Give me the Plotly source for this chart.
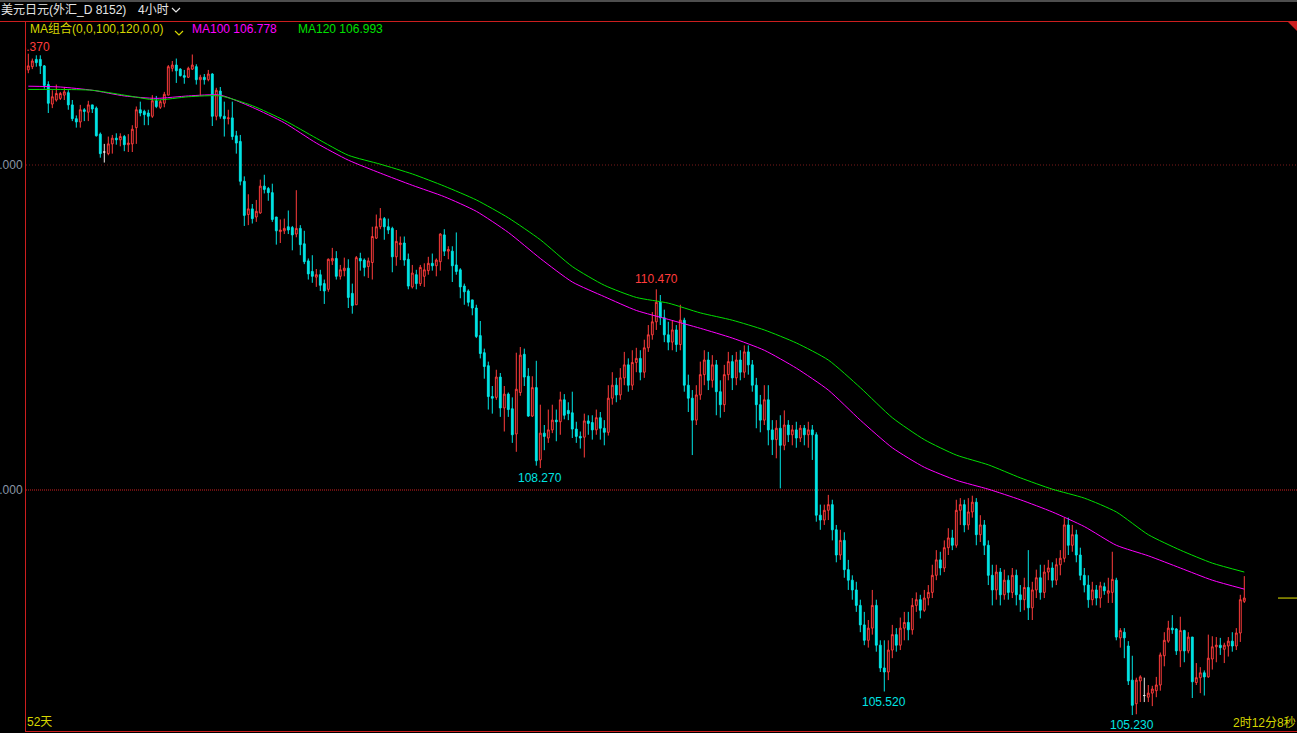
import plotly.graph_objects as go

# ---------------- data (4-hour candles, USD/JPY) ----------------
OPEN = [
    113.17, 113.21, 113.30, 113.30, 113.22, 112.99, 112.75, 112.80, 112.82, 112.86,
    112.89, 112.74, 112.57, 112.53, 112.68, 112.65, 112.74, 112.70, 112.38, 112.16,
    112.14, 112.26, 112.33, 112.31, 112.35, 112.25, 112.26, 112.46, 112.68, 112.66,
    112.64, 112.60, 112.79, 112.71, 112.76, 112.86, 113.19, 113.23, 113.18, 113.10,
    113.08, 113.18, 113.21, 113.05, 113.08, 113.05, 113.12, 112.60, 112.91, 112.60,
    112.57, 112.58, 112.36, 112.29, 111.80, 111.39, 111.46, 111.36, 111.41, 111.74,
    111.71, 111.66, 111.36, 111.18, 111.19, 111.24, 111.23, 111.15, 111.22, 111.03,
    110.82, 110.69, 110.62, 110.65, 110.54, 110.47, 110.82, 110.85, 110.63, 110.70,
    110.73, 110.42, 110.28, 110.85, 110.83, 110.75, 110.80, 111.10, 111.24, 111.34,
    111.24, 111.22, 110.87, 111.02, 111.04, 110.84, 110.50, 110.65, 110.54, 110.63,
    110.70, 110.79, 110.76, 110.81, 111.14, 110.94, 110.94, 110.77, 110.71, 110.51,
    110.45, 110.34, 110.24, 109.90, 109.69, 109.53, 109.15, 109.14, 109.39, 109.01,
    109.18, 109.00, 108.69, 109.20, 109.67, 109.40, 108.91, 109.26, 108.37, 108.70,
    108.64, 108.74, 108.86, 108.84, 109.11, 108.98, 108.95, 108.75, 108.66, 108.65,
    108.85, 108.83, 108.74, 108.89, 108.76, 108.71, 109.13, 109.29, 109.17, 109.38,
    109.54, 109.29, 109.57, 109.62, 109.45, 109.75, 109.91, 110.07, 110.31, 110.12,
    109.91, 109.82, 109.97, 109.79, 110.09, 109.29, 109.13, 108.86, 109.17, 109.42,
    109.60, 109.35, 109.54, 109.21, 109.05, 109.42, 109.58, 109.38, 109.60, 109.45,
    109.70, 109.54, 109.29, 109.05, 108.86, 109.11, 108.74, 108.62, 108.76, 108.55,
    108.80, 108.68, 108.74, 108.64, 108.76, 108.68, 108.74, 108.68, 107.69, 107.63,
    107.75, 107.82, 107.51, 107.20, 107.38, 107.02, 106.89, 106.77, 106.58, 106.34,
    106.15, 106.30, 106.58, 106.09, 105.81, 105.76, 106.03, 106.22, 106.09, 106.30,
    106.37, 106.28, 106.58, 106.65, 106.52, 106.67, 106.74, 106.95, 107.14, 107.04,
    107.29, 107.41, 107.32, 107.75, 107.82, 107.57, 107.73, 107.85, 107.45, 107.57,
    107.32, 106.95, 106.77, 106.99, 106.71, 106.89, 106.74, 106.95, 106.71, 106.65,
    106.80, 106.55, 106.77, 106.92, 106.74, 106.99, 107.04, 106.89, 107.08, 107.16,
    107.57, 107.32, 107.45, 107.20, 106.95, 106.83, 106.65, 106.77, 106.67, 106.81,
    106.73, 106.74, 106.89, 106.18, 106.25, 106.08, 105.66, 105.37, 105.65, 105.47,
    105.45, 105.50, 105.53, 105.60, 105.96, 106.14, 106.30, 106.29, 106.02, 106.27,
    106.02, 106.19, 105.63, 105.69, 105.75, 105.70, 105.92, 106.07, 106.09, 106.04,
    106.08, 106.14, 106.08, 106.24, 106.63,
]
HIGH = [
    113.37, 113.31, 113.35, 113.35, 113.23, 113.03, 112.92, 112.99, 112.90, 112.96,
    112.92, 112.80, 112.61, 112.74, 112.70, 112.79, 112.74, 112.72, 112.40, 112.26,
    112.35, 112.37, 112.39, 112.39, 112.37, 112.38, 112.49, 112.72, 112.78, 112.68,
    112.68, 112.86, 112.85, 112.80, 112.90, 113.23, 113.28, 113.31, 113.19, 113.17,
    113.21, 113.36, 113.24, 113.11, 113.12, 113.17, 113.13, 112.95, 112.96, 112.78,
    112.68, 112.78, 112.42, 112.37, 111.86, 111.64, 111.52, 111.57, 111.82, 111.88,
    111.73, 111.77, 111.36, 111.33, 111.34, 111.44, 111.25, 111.69, 111.26, 111.19,
    110.85, 110.89, 110.72, 110.71, 110.59, 110.85, 110.98, 110.94, 110.77, 110.86,
    110.84, 110.54, 110.88, 110.92, 110.85, 110.86, 111.24, 111.39, 111.47, 111.36,
    111.34, 111.24, 111.20, 111.12, 111.12, 110.91, 110.77, 110.71, 110.77, 110.79,
    110.87, 110.91, 110.85, 111.16, 111.21, 111.00, 111.00, 111.17, 110.73, 110.54,
    110.47, 110.34, 110.28, 110.08, 109.74, 109.58, 109.28, 109.48, 109.44, 109.28,
    109.20, 109.14, 109.69, 109.76, 109.74, 109.50, 109.40, 109.59, 109.05, 108.80,
    108.99, 109.05, 108.99, 109.21, 109.18, 109.08, 109.21, 108.84, 108.72, 108.94,
    108.92, 108.92, 108.99, 108.96, 108.86, 109.29, 109.45, 109.38, 109.50, 109.70,
    109.62, 109.72, 109.75, 109.72, 109.85, 110.03, 110.19, 110.47, 110.40, 110.22,
    110.07, 110.09, 110.03, 110.28, 110.12, 109.42, 109.23, 109.29, 109.58, 109.72,
    109.70, 109.66, 109.60, 109.35, 109.54, 109.70, 109.66, 109.70, 109.72, 109.78,
    109.78, 109.60, 109.38, 109.17, 109.29, 109.29, 108.86, 108.86, 108.92, 108.98,
    108.86, 108.80, 108.84, 108.80, 108.80, 108.84, 108.80, 108.71, 107.82, 107.82,
    107.94, 107.88, 107.57, 107.51, 107.48, 107.14, 106.95, 106.87, 106.65, 106.50,
    106.40, 106.77, 106.65, 106.15, 106.15, 106.15, 106.34, 106.30, 106.43, 106.50,
    106.50, 106.67, 106.74, 106.71, 106.77, 106.83, 107.08, 107.26, 107.24, 107.38,
    107.53, 107.51, 107.88, 107.90, 107.88, 107.90, 107.93, 107.90, 107.69, 107.63,
    107.38, 107.08, 107.08, 107.04, 107.02, 106.95, 107.04, 107.02, 106.83, 106.92,
    107.26, 106.87, 107.02, 107.08, 107.08, 107.14, 107.11, 107.16, 107.26, 107.66,
    107.66, 107.57, 107.51, 107.29, 107.04, 106.95, 106.87, 106.83, 106.87, 106.86,
    106.92, 107.24, 106.92, 106.30, 106.30, 106.14, 105.96, 105.69, 105.72, 105.69,
    105.60, 105.59, 105.70, 106.00, 106.25, 106.39, 106.46, 106.30, 106.44, 106.28,
    106.25, 106.19, 105.87, 105.82, 105.78, 106.22, 106.20, 106.19, 106.18, 106.12,
    106.19, 106.25, 106.30, 106.71, 106.94,
]
LOW = [
    113.13, 113.18, 113.21, 113.12, 112.94, 112.64, 112.70, 112.78, 112.80, 112.80,
    112.68, 112.54, 112.46, 112.46, 112.54, 112.54, 112.64, 112.35, 112.09, 112.03,
    112.12, 112.14, 112.25, 112.23, 112.17, 112.16, 112.16, 112.26, 112.60, 112.49,
    112.49, 112.58, 112.70, 112.69, 112.71, 112.86, 113.15, 113.01, 113.09, 113.00,
    113.07, 113.17, 112.99, 112.85, 112.99, 113.03, 112.48, 112.55, 112.57, 112.35,
    112.50, 112.31, 112.14, 111.75, 111.25, 111.26, 111.28, 111.30, 111.40, 111.65,
    111.56, 111.30, 111.02, 111.04, 111.15, 111.15, 110.95, 111.11, 110.89, 110.78,
    110.59, 110.55, 110.50, 110.45, 110.29, 110.44, 110.77, 110.59, 110.59, 110.63,
    110.24, 110.17, 110.28, 110.70, 110.63, 110.61, 110.59, 111.09, 111.21, 111.08,
    111.15, 110.68, 110.76, 110.83, 110.76, 110.47, 110.48, 110.47, 110.51, 110.50,
    110.65, 110.70, 110.63, 110.70, 110.88, 110.84, 110.56, 110.65, 110.36, 110.28,
    110.26, 110.15, 109.87, 109.62, 109.37, 108.99, 108.94, 109.11, 108.90, 108.72,
    108.90, 108.58, 108.47, 109.16, 109.28, 108.90, 108.90, 108.30, 108.27, 108.49,
    108.58, 108.70, 108.60, 108.68, 108.87, 108.86, 108.64, 108.58, 108.51, 108.40,
    108.68, 108.62, 108.68, 108.62, 108.55, 108.67, 109.05, 109.08, 109.11, 109.29,
    109.21, 109.23, 109.45, 109.35, 109.38, 109.70, 109.85, 109.97, 110.03, 109.82,
    109.72, 109.72, 109.70, 109.72, 109.21, 108.96, 108.43, 108.80, 109.11, 109.29,
    109.23, 109.26, 108.92, 108.89, 108.96, 109.35, 109.23, 109.29, 109.35, 109.38,
    109.42, 109.21, 108.76, 108.71, 108.80, 108.55, 108.43, 108.39, 108.02, 108.49,
    108.59, 108.55, 108.52, 108.59, 108.55, 108.52, 108.37, 107.61, 107.51, 107.57,
    107.63, 107.38, 107.11, 107.14, 106.92, 106.77, 106.65, 106.50, 106.25, 106.09,
    106.06, 106.22, 106.01, 105.76, 105.52, 105.66, 105.93, 106.01, 106.03, 106.15,
    106.15, 106.22, 106.50, 106.42, 106.50, 106.58, 106.67, 106.89, 106.95, 106.99,
    107.20, 107.26, 107.29, 107.57, 107.48, 107.51, 107.66, 107.32, 107.36, 107.20,
    106.83, 106.58, 106.65, 106.58, 106.65, 106.65, 106.67, 106.58, 106.50, 106.52,
    106.40, 106.40, 106.67, 106.65, 106.67, 106.89, 106.80, 106.83, 106.95, 107.11,
    107.20, 107.24, 107.11, 106.89, 106.74, 106.55, 106.58, 106.58, 106.55, 106.71,
    106.61, 106.61, 106.15, 106.06, 105.93, 105.60, 105.23, 105.24, 105.39, 105.39,
    105.39, 105.34, 105.45, 105.53, 105.83, 106.12, 106.23, 105.97, 105.82, 105.88,
    105.99, 105.44, 105.60, 105.50, 105.47, 105.69, 105.79, 105.88, 105.97, 105.87,
    105.95, 106.01, 106.03, 106.13, 106.61,
]
CLOSE = [
    113.22, 113.28, 113.26, 113.22, 112.98, 112.76, 112.84, 112.88, 112.88, 112.90,
    112.74, 112.57, 112.53, 112.68, 112.66, 112.74, 112.69, 112.36, 112.14, 112.16,
    112.26, 112.33, 112.31, 112.35, 112.25, 112.27, 112.44, 112.68, 112.64, 112.62,
    112.60, 112.79, 112.72, 112.78, 112.87, 113.21, 113.23, 113.16, 113.10, 113.08,
    113.19, 113.23, 113.05, 113.08, 113.05, 113.12, 112.60, 112.92, 112.60, 112.57,
    112.58, 112.35, 112.27, 111.80, 111.38, 111.46, 111.34, 111.43, 111.74, 111.70,
    111.66, 111.33, 111.19, 111.20, 111.22, 111.20, 111.14, 111.22, 111.02, 110.81,
    110.66, 110.63, 110.65, 110.52, 110.45, 110.84, 110.85, 110.63, 110.71, 110.73,
    110.37, 110.27, 110.86, 110.82, 110.74, 110.82, 111.12, 111.24, 111.34, 111.24,
    111.20, 110.87, 111.06, 111.04, 110.83, 110.51, 110.67, 110.54, 110.74, 110.71,
    110.79, 110.76, 110.83, 111.15, 110.94, 110.96, 110.76, 110.69, 110.50, 110.44,
    110.31, 110.24, 109.89, 109.68, 109.52, 109.15, 109.13, 109.39, 109.01, 109.18,
    108.99, 108.68, 109.24, 109.66, 109.39, 108.91, 109.26, 108.36, 108.70, 108.66,
    108.74, 108.86, 108.84, 109.11, 108.92, 108.94, 108.75, 108.66, 108.64, 108.85,
    108.82, 108.74, 108.89, 108.76, 108.71, 109.13, 109.29, 109.17, 109.38, 109.54,
    109.29, 109.57, 109.62, 109.45, 109.75, 109.91, 110.07, 110.31, 110.12, 109.91,
    109.82, 109.97, 109.79, 110.09, 109.29, 109.13, 108.86, 109.17, 109.42, 109.60,
    109.35, 109.54, 109.21, 109.05, 109.42, 109.58, 109.38, 109.60, 109.45, 109.70,
    109.54, 109.29, 109.05, 108.86, 109.11, 108.74, 108.62, 108.76, 108.55, 108.80,
    108.68, 108.74, 108.64, 108.76, 108.68, 108.74, 108.68, 107.69, 107.63, 107.75,
    107.82, 107.51, 107.20, 107.38, 107.02, 106.89, 106.77, 106.58, 106.34, 106.15,
    106.30, 106.58, 106.09, 105.81, 105.76, 106.03, 106.22, 106.09, 106.30, 106.37,
    106.28, 106.58, 106.65, 106.52, 106.67, 106.74, 106.95, 107.14, 107.04, 107.29,
    107.41, 107.32, 107.75, 107.82, 107.57, 107.73, 107.85, 107.45, 107.57, 107.32,
    106.95, 106.77, 106.99, 106.71, 106.89, 106.74, 106.95, 106.71, 106.65, 106.80,
    106.55, 106.77, 106.92, 106.74, 106.99, 107.04, 106.89, 107.08, 107.16, 107.57,
    107.32, 107.45, 107.20, 106.95, 106.83, 106.65, 106.77, 106.67, 106.82, 106.76,
    106.76, 106.90, 106.19, 106.27, 106.18, 105.65, 105.35, 105.66, 105.70, 105.47,
    105.50, 105.55, 105.60, 105.97, 106.15, 106.30, 106.28, 106.02, 106.27, 106.02,
    106.19, 105.64, 105.69, 105.75, 105.70, 105.93, 106.07, 106.09, 106.06, 106.09,
    106.14, 106.08, 106.24, 106.65, 106.67,
]
DOJI_IDX = [19, 279]

# moving averages, read every 8th candle
MA_IDX = list(range(0, 305, 8))
MA100 = [
    112.97, 112.96, 112.92, 112.85, 112.82, 112.85, 112.86, 112.71, 112.52, 112.27,
    112.06, 111.90, 111.75, 111.61, 111.43, 111.17, 110.85, 110.56, 110.38, 110.21,
    110.10, 109.99, 109.87, 109.72, 109.50, 109.23, 108.86, 108.52, 108.28, 108.12,
    108.01, 107.88, 107.73, 107.55, 107.32, 107.19, 107.04, 106.89, 106.78,
]
MA120 = [
    112.93, 112.93, 112.92, 112.86, 112.80, 112.84, 112.85, 112.73, 112.55, 112.33,
    112.12, 112.01, 111.89, 111.74, 111.57, 111.35, 111.08, 110.75, 110.52, 110.37,
    110.30, 110.18, 110.09, 109.97, 109.81, 109.60, 109.26, 108.89, 108.62, 108.43,
    108.31, 108.15, 108.01, 107.90, 107.73, 107.45, 107.26, 107.10, 106.99,
]
MA_LAST = {"MA100": 106.778, "MA120": 106.993}

Y_TICKS = [108.0, 112.0]
Y_TICK_TEXT = ["108.000", "112.000"]

# labelled extremes: (candle index, price, kind)
EXTREMES = [(157, 110.47, "high"), (128, 108.27, "low"),
            (214, 105.52, "low"), (276, 105.23, "low")]
CLIPPED_HIGH = (0, 113.37)

TITLE = "美元日元(外汇_D 8152)"
PERIOD = "4小时"
MA_SET = "MA组合(0,0,100,120,0,0)"
SPAN = "52天"
COUNTDOWN = "2时12分8秒"

# ---------------- styling / layout helpers ----------------
W, H = 1297, 733
LM, TM, BM = 26, 22, 2
PW, PH = W - LM, H - TM - BM


def px(x):
    return (x - LM) / PW


def py(y):
    return (H - BM - y) / PH


UP = "#ff3c3c"
DOWN = "#00e4e4"
DOJI = "#e8e8e8"
RED = "#cc1e1e"
YEL = "#d6d600"
MAG = "#ff00ff"
GRN = "#00e000"
FONT = "Liberation Sans, Noto Sans CJK SC, sans-serif"

n = len(CLOSE)
main = [i for i in range(n) if i not in DOJI_IDX]

fig = go.Figure()
fig.add_trace(go.Candlestick(
    x=main,
    open=[OPEN[i] for i in main], high=[HIGH[i] for i in main],
    low=[LOW[i] for i in main], close=[CLOSE[i] for i in main],
    increasing=dict(line=dict(color=UP, width=1), fillcolor="#000000"),
    decreasing=dict(line=dict(color=DOWN, width=1), fillcolor=DOWN),
    whiskerwidth=0, hoverinfo="none", showlegend=False))
fig.add_trace(go.Candlestick(
    x=DOJI_IDX,
    open=[OPEN[i] for i in DOJI_IDX], high=[HIGH[i] for i in DOJI_IDX],
    low=[LOW[i] for i in DOJI_IDX], close=[CLOSE[i] for i in DOJI_IDX],
    increasing=dict(line=dict(color=DOJI, width=1), fillcolor=DOJI),
    decreasing=dict(line=dict(color=DOJI, width=1), fillcolor=DOJI),
    whiskerwidth=0, hoverinfo="none", showlegend=False))
fig.add_trace(go.Scatter(x=MA_IDX, y=MA100, mode="lines", line_shape="spline",
                         line=dict(color=MAG, width=1, smoothing=0.6),
                         hoverinfo="skip", showlegend=False))
fig.add_trace(go.Scatter(x=MA_IDX, y=MA120, mode="lines", line_shape="spline",
                         line=dict(color=GRN, width=1, smoothing=0.6),
                         hoverinfo="skip", showlegend=False))
fig.add_trace(go.Scatter(x=[CLIPPED_HIGH[0]], y=[CLIPPED_HIGH[1]], mode="text",
                         text=[f"{CLIPPED_HIGH[1]:.3f}"], textposition="top center",
                         textfont=dict(color=UP, size=12, family=FONT),
                         cliponaxis=True, hoverinfo="skip", showlegend=False))

annotations = []
for i, v, kind in EXTREMES:
    hi = kind == "high"
    annotations.append(dict(
        x=i, y=v, xref="x", yref="y", text=f"{v:.3f}", showarrow=False,
        xanchor="center", yanchor="bottom" if hi else "top",
        yshift=1 if hi else -1,
        font=dict(color=UP if hi else DOWN, size=12, family=FONT)))


def label(text, x, y, color, anchor="left", size=12):
    annotations.append(dict(
        x=px(x), y=py(y), xref="paper", yref="paper", text=text, showarrow=False,
        xanchor=anchor, yanchor="middle", font=dict(color=color, size=size, family=FONT),
        borderpad=0))


label(TITLE, 0, 10, "#e6e6e6")
label(PERIOD, 137, 10, "#e6e6e6")
label(MA_SET, 29, 29, YEL)
label(f"MA100 {MA_LAST['MA100']:.3f}", 191, 29, MAG)
label(f"MA120 {MA_LAST['MA120']:.3f}", 297, 29, GRN)
label(SPAN, 26, 722, YEL)
label(COUNTDOWN, 1297, 723, YEL, anchor="right")

shapes = [
    # top gray strip
    dict(type="rect", xref="paper", yref="paper", x0=px(0), x1=1, y0=py(2), y1=py(0),
         fillcolor="#4e4e4e", line=dict(width=0), layer="above"),
    # top red separator
    dict(type="line", xref="paper", yref="paper", x0=px(0), x1=1, y0=py(21.5), y1=py(21.5),
         line=dict(color=RED, width=1)),
    # corner triangle
    dict(type="path", xref="paper", yref="paper",
         path=f"M {px(1288)},{py(22)} L {px(1297)},{py(22)} L {px(1297)},{py(31)} Z",
         fillcolor=RED, line=dict(width=0)),
    # chevrons
    dict(type="path", xref="paper", yref="paper",
         path=f"M {px(172)},{py(8)} L {px(176)},{py(12)} L {px(180)},{py(8)}",
         line=dict(color="#e6e6e6", width=1.2)),
    dict(type="path", xref="paper", yref="paper",
         path=f"M {px(175)},{py(31)} L {px(179)},{py(35)} L {px(183)},{py(31)}",
         line=dict(color=YEL, width=1.2)),
    # price grid lines
    dict(type="line", xref="paper", yref="y", x0=0, x1=1, y0=Y_TICKS[1], y1=Y_TICKS[1],
         line=dict(color="#7a1a1a", width=1, dash="1px,2px"), layer="below"),
    dict(type="line", xref="paper", yref="y", x0=0, x1=1, y0=Y_TICKS[0], y1=Y_TICKS[0],
         line=dict(color="#d02020", width=1, dash="1px,1px"), layer="below"),
    # current price marker
    dict(type="line", xref="paper", yref="y", x0=px(1278), x1=1, y0=CLOSE[-1], y1=CLOSE[-1],
         line=dict(color="#e6e600", width=1)),
]

# x: candle i drawn at 28.3 + 4*i pixels
x0 = (LM - 28.3) / 4.0
x1 = (W - 28.3) / 4.0
y_lo = 112.0 - (H - BM - 165) / 81.25
y_hi = 112.0 + (165 - TM) / 81.25

fig.update_layout(
    width=W, height=H,
    margin=dict(l=LM, r=0, t=TM, b=BM, pad=0),
    paper_bgcolor="#000000", plot_bgcolor="#000000",
    showlegend=False, hovermode=False, boxgap=0.35,
    annotations=annotations, shapes=shapes,
    font=dict(family=FONT, color="#e6e6e6", size=12),
    xaxis=dict(range=[x0, x1], showgrid=False, zeroline=False, showticklabels=False,
               ticks="", showline=True, linecolor=RED, linewidth=1,
               rangeslider=dict(visible=False), fixedrange=True),
    yaxis=dict(range=[y_lo, y_hi], showgrid=False, zeroline=False, showline=True,
               linecolor=RED, linewidth=1, ticks="", tickvals=Y_TICKS, ticktext=Y_TICK_TEXT,
               tickfont=dict(color="#8a96a6", size=12, family=FONT),
               automargin=False, fixedrange=True),
)

fig.write_html("out.html", config={"displayModeBar": False},
               post_script="document.body.style.margin='0';"
                           "document.body.style.background='#000';"
                           "document.body.style.overflow='hidden';")
